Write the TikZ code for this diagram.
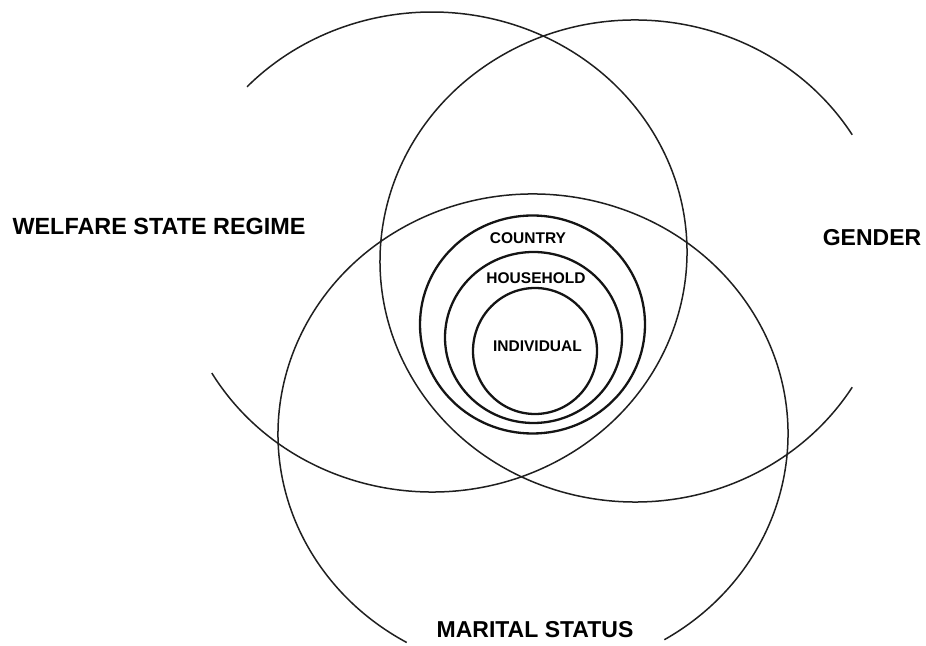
\documentclass[tikz,border=0pt]{standalone}
\usepackage{fontspec}
\setmainfont{Liberation Sans}
\begin{document}
\begin{tikzpicture}[x=1pt,y=1pt,
  bigring/.style={draw=black!88, line width=1.5pt},
  smallring/.style={draw=black!92, line width=2.3pt},
  biglabel/.style={inner sep=0pt, font=\fontsize{23}{23}\selectfont\bfseries},
  smalllabel/.style={inner sep=0pt, font=\fontsize{15.5}{15.5}\selectfont\bfseries}]
\useasboundingbox (0,0) rectangle (926,645);
% centres (pixel y flipped: Y = 645 - y)
\coordinate (cW) at (432,393);
\coordinate (cG) at (635,384);
\coordinate (cM) at (533,211);
\coordinate (cC) at (532.5,320.5);
\coordinate (cH) at (533.5,307.5);
\coordinate (cI) at (535,294);
% large rings
\draw[bigring] ([shift={(-149.7:255pt and 240pt)}]cW) arc[start angle=-149.7, end angle=136.5, x radius=255pt, y radius=240pt];
\draw[bigring] ([shift={(31.6:255pt and 241pt)}]cG) arc[start angle=31.6, end angle=328.4, x radius=255pt, y radius=241pt];
\draw[bigring] ([shift={(-59:255pt and 240pt)}]cM) arc[start angle=-59, end angle=240.3, x radius=255pt, y radius=240pt];
% nested rings
\draw[smallring] (cC) ellipse[x radius=112.5pt, y radius=109pt];
\draw[smallring] (cH) ellipse[x radius=88.5pt, y radius=85.5pt];
\draw[smallring] (cI) ellipse[x radius=62pt, y radius=63pt];
% labels
\node[biglabel, font=\fontsize{23.4}{23.4}\selectfont\bfseries] (welfare) at (159,419) {WELFARE STATE REGIME};
\node[biglabel] (gender) at (872,407) {GENDER};
\node[biglabel] (marital) at (535,15) {MARITAL STATUS};
\node[smalllabel] (country) at (528,406.5) {COUNTRY};
\node[smalllabel] (household) at (536,366.5) {HOUSEHOLD};
\node[smalllabel] (individual) at (537.5,299) {INDIVIDUAL};
\end{tikzpicture}
\end{document}
